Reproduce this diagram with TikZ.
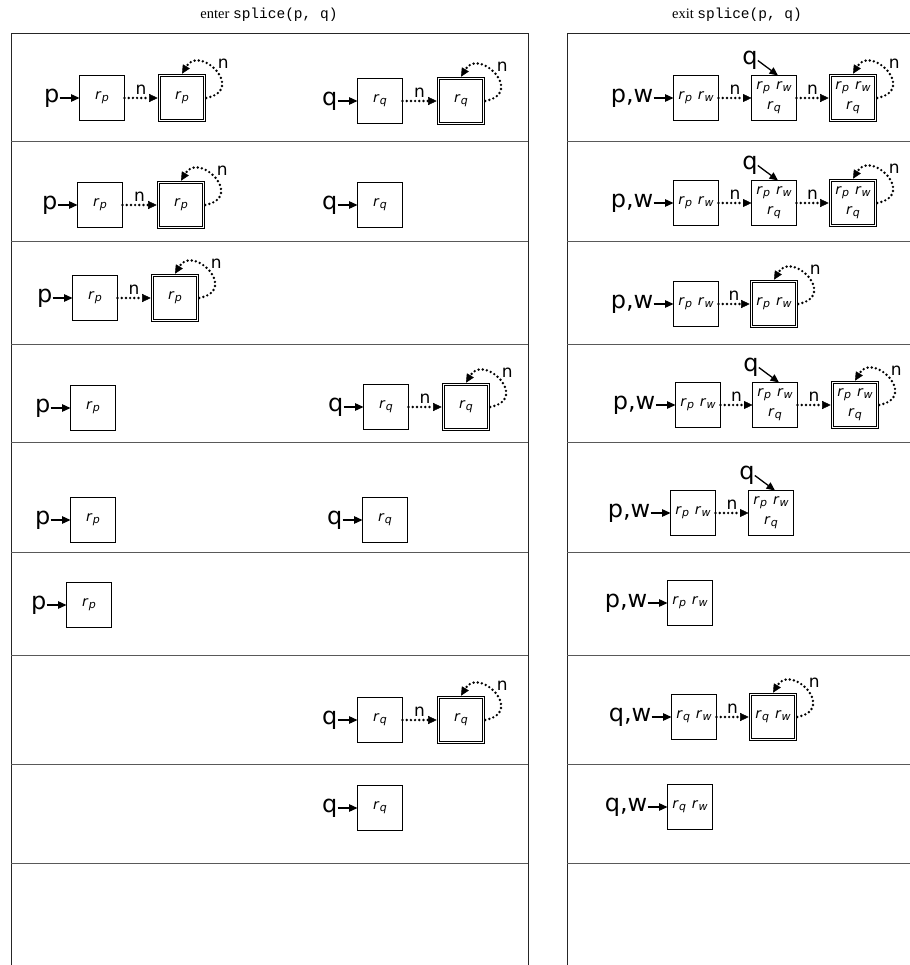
\documentclass[tikz,border=0pt]{standalone}
\usepackage{fontspec}
\setmainfont{Liberation Serif}
\setmonofont{Liberation Mono}
\newfontfamily\dvsans{DejaVu Sans}
\usetikzlibrary{arrows.meta,calc}
\newcommand\lblfont{\dvsans\fontsize{24}{28}\selectfont}
\newcommand\nfont{\dvsans\fontsize{17}{20}\selectfont}
\newcommand\boxfont{\dvsans\fontsize{14}{20}\selectfont}
\newcommand\rv[1]{\textit{r}\kern0.2pt\raisebox{-0.3ex}{\fontsize{11}{12}\selectfont\textit{#1}}}
\newcommand\rpw{\rv{p}\hspace{6pt}\rv{w}}
\newcommand\rpwq{\rv{p}\hspace{6pt}\rv{w}\\\rv{q}}
\newcommand\rqw{\rv{q}\hspace{6pt}\rv{w}}
\tikzset{
  box/.style={draw, line width=1pt, minimum width=45pt, minimum height=45pt,
    inner sep=0pt, outer sep=0pt, font=\boxfont, align=center},
  dbox/.style={box, double, double distance=1.6pt, outer sep=1.8pt},
  lbl/.style={font=\lblfont, inner sep=0pt},
  nl/.style={font=\nfont, inner sep=0pt},
  hdr/.style={font=\fontsize{14.5}{16}\selectfont, inner sep=0pt},
  ptr/.style={line width=1.3pt, -{Triangle[length=8.5pt,width=7.5pt]}},
  nxt/.style={line width=2.7pt, dash pattern=on 0pt off 4.2pt, line cap=round,
    -{Triangle[length=8.5pt,width=8pt,line width=0.4pt]}},
  panel/.style={line width=0.9pt, draw=black!85},
  sep/.style={line width=0.9pt, draw=black!65},
}
\newcommand\selfloop[1]{%
  \draw[nxt] (#1.east) .. controls +(40,-8) and +(18,-30) .. (#1.north);
  \node[nl] (#1n) at ($(#1.east)+(17,-34)$) {n};}
\newcommand\ptrlbl[3]{%
  \node[lbl,anchor=east] (#1) at ($(#2.west)+(-20,0)$) {#3};
  \draw[ptr] (#1.east) -- (#2.west);}
\newcommand\nextarr[3]{%
  \draw[nxt] (#1.east) -- (#2.west) node[nl,midway,above=2pt] (#3) {n};}
\newcommand\qarr[2]{%
  \node[lbl] (#1) at ($(#2.north)+(-24,-15)$) {q};
  \draw[ptr] (#1.east) -- ($(#2.north)+(4,0)$);}
\begin{document}
\begin{tikzpicture}[x=1pt,y=-1pt]
\useasboundingbox (0,0) rectangle (909,965);
% headers
\node[hdr] (h1) at (269,15) {enter \texttt{splice(p, q)}};
\node[hdr] (h2) at (737,15) {exit \texttt{splice(p, q)}};
% panels
\draw[panel] (11,33) rectangle (528,975);
\draw[panel] (567,33) rectangle (920,975);
\foreach \yy in {141,241,344,442,552,655,764,863}{
  \draw[sep] (11,\yy) -- (528,\yy);
  \draw[sep] (567,\yy) -- (920,\yy);
}
% ===== LEFT =====
% row 1
\node[box] (a11) at (102,98) {\rv{p}};
\node[dbox] (a12) at (182,98) {\rv{p}};
\ptrlbl{pa1}{a11}{p}
\nextarr{a11}{a12}{na1}
\selfloop{a12}
\node[box] (c11) at (380,101) {\rv{q}};
\node[dbox] (c12) at (461,101) {\rv{q}};
\ptrlbl{qc1}{c11}{q}
\nextarr{c11}{c12}{nc1}
\selfloop{c12}
% row 2
\node[box] (a21) at (100,205) {\rv{p}};
\node[dbox] (a22) at (181,205) {\rv{p}};
\ptrlbl{pa2}{a21}{p}
\nextarr{a21}{a22}{na2}
\selfloop{a22}
\node[box] (c21) at (380,205) {\rv{q}};
\ptrlbl{qc2}{c21}{q}
% row 3
\node[box] (a31) at (95,298) {\rv{p}};
\node[dbox] (a32) at (175,298) {\rv{p}};
\ptrlbl{pa3}{a31}{p}
\nextarr{a31}{a32}{na3}
\selfloop{a32}
% row 4
\node[box] (a41) at (93,408) {\rv{p}};
\ptrlbl{pa4}{a41}{p}
\node[box] (c41) at (386,407) {\rv{q}};
\node[dbox] (c42) at (466,407) {\rv{q}};
\ptrlbl{qc4}{c41}{q}
\nextarr{c41}{c42}{nc4}
\selfloop{c42}
% row 5
\node[box] (a51) at (93,520) {\rv{p}};
\ptrlbl{pa5}{a51}{p}
\node[box] (c51) at (385,520) {\rv{q}};
\ptrlbl{qc5}{c51}{q}
% row 6
\node[box] (a61) at (89,605) {\rv{p}};
\ptrlbl{pa6}{a61}{p}
% row 7
\node[box] (c71) at (380,720) {\rv{q}};
\node[dbox] (c72) at (461,720) {\rv{q}};
\ptrlbl{qc7}{c71}{q}
\nextarr{c71}{c72}{nc7}
\selfloop{c72}
% row 8
\node[box] (c81) at (380,808) {\rv{q}};
\ptrlbl{qc8}{c81}{q}
% ===== RIGHT =====
% row 1
\node[box] (b11) at (696,98) {\rpw};
\node[box] (b12) at (774,98) {\rpwq};
\node[dbox] (b13) at (853,98) {\rpwq};
\ptrlbl{pw1}{b11}{p,w}
\nextarr{b11}{b12}{nb11}
\nextarr{b12}{b13}{nb12}
\selfloop{b13}
\qarr{q1}{b12}
% row 2
\node[box] (b21) at (696,203) {\rpw};
\node[box] (b22) at (774,203) {\rpwq};
\node[dbox] (b23) at (853,203) {\rpwq};
\ptrlbl{pw2}{b21}{p,w}
\nextarr{b21}{b22}{nb21}
\nextarr{b22}{b23}{nb22}
\selfloop{b23}
\qarr{q2}{b22}
% row 3
\node[box] (b31) at (696,304) {\rpw};
\node[dbox] (b32) at (774,304) {\rpw};
\ptrlbl{pw3}{b31}{p,w}
\nextarr{b31}{b32}{nb31}
\selfloop{b32}
% row 4
\node[box] (b41) at (698,405) {\rpw};
\node[box] (b42) at (775,405) {\rpwq};
\node[dbox] (b43) at (855,405) {\rpwq};
\ptrlbl{pw4}{b41}{p,w}
\nextarr{b41}{b42}{nb41}
\nextarr{b42}{b43}{nb42}
\selfloop{b43}
\qarr{q4}{b42}
% row 5
\node[box] (b51) at (693,513) {\rpw};
\node[box] (b52) at (771,513) {\rpwq};
\ptrlbl{pw5}{b51}{p,w}
\nextarr{b51}{b52}{nb51}
\qarr{q5}{b52}
% row 6
\node[box] (b61) at (690,603) {\rpw};
\ptrlbl{pw6}{b61}{p,w}
% row 7
\node[box] (b71) at (694,717) {\rqw};
\node[dbox] (b72) at (773,717) {\rqw};
\ptrlbl{qw7}{b71}{q,w}
\nextarr{b71}{b72}{nb71}
\selfloop{b72}
% row 8
\node[box] (b81) at (690,807) {\rqw};
\ptrlbl{qw8}{b81}{q,w}
\end{tikzpicture}
\end{document}
